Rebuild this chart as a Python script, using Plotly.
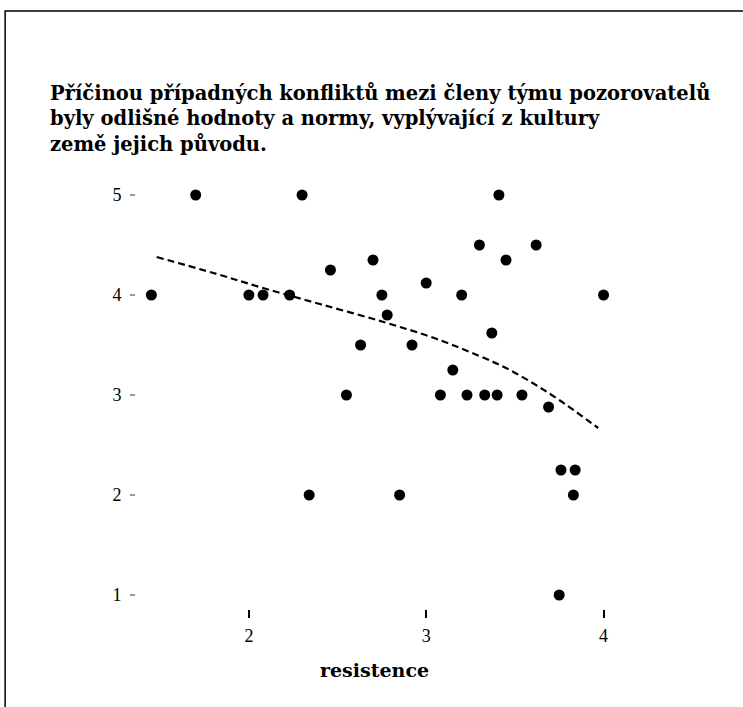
import plotly.graph_objects as go

# Scatter data
resistence = [1.45, 1.70, 2.00, 2.08, 2.23, 2.30, 2.34, 2.46, 2.55, 2.63,
              2.70, 2.75, 2.78, 2.85, 2.92, 3.00, 3.08, 3.15, 3.20, 3.23,
              3.30, 3.33, 3.37, 3.40, 3.41, 3.45, 3.54, 3.62, 3.69, 3.75,
              3.76, 3.83, 3.84, 4.00]
score = [4.00, 5.00, 4.00, 4.00, 4.00, 5.00, 2.00, 4.25, 3.00, 3.50,
         4.35, 4.00, 3.80, 2.00, 3.50, 4.12, 3.00, 3.25, 4.00, 3.00,
         4.50, 3.00, 3.62, 3.00, 5.00, 4.35, 3.00, 4.50, 2.88, 1.00,
         2.25, 2.00, 2.25, 4.00]

# Fitted (dashed) curve
fit_x = [1.48, 1.80, 2.08, 2.40, 2.76, 3.06, 3.30, 3.45, 3.60, 3.75, 3.97]
fit_y = [4.38, 4.22, 4.07, 3.91, 3.73, 3.56, 3.39, 3.27, 3.12, 2.95, 2.67]

x_ticks = [2, 3, 4]
y_ticks = [1, 2, 3, 4, 5]

title_text = ("Příčinou případných konfliktů mezi členy týmu pozorovatelů<br>"
              "byly odlišné hodnoty a normy, vyplývající z kultury<br>"
              "země jejich původu.")
x_title = "resistence"

W, H = 743, 707
L, R = 136, 639.5
T, B = 145, 609


def px_x(p):
    return (p - L) / (R - L)


def px_y(p):
    return (B - p) / (B - T)


fig = go.Figure()
fig.add_trace(go.Scatter(x=fit_x, y=fit_y, mode="lines",
                         line=dict(color="black", width=2.2, dash="7px,4px",
                                   shape="spline", smoothing=1.0),
                         hoverinfo="skip", showlegend=False))
fig.add_trace(go.Scatter(x=resistence, y=score, mode="markers",
                         marker=dict(color="black", size=11),
                         showlegend=False))

fig.update_layout(
    width=W, height=H,
    margin=dict(l=L, r=W - R, t=T, b=H - B),
    plot_bgcolor="white", paper_bgcolor="white",
    xaxis=dict(range=[2 - (249 - L) / 177.5, 2 + (R - 249) / 177.5],
               tickvals=x_ticks, ticktext=[str(v) for v in x_ticks],
               showgrid=False, zeroline=False, showline=False,
               ticks="outside", ticklen=8, tickwidth=2, tickcolor="black",
               ticklabelstandoff=2,
               tickfont=dict(family="Liberation Serif", size=18, color="black")),
    yaxis=dict(range=[1 - (B - 595) / 100, 1 + (595 - T) / 100],
               tickvals=y_ticks, ticktext=[str(v) for v in y_ticks],
               showgrid=False, zeroline=False, showline=False,
               ticks="outside", ticklen=5, tickwidth=2, tickcolor="#9a9a9a",
               ticklabelstandoff=5,
               tickfont=dict(family="Liberation Serif", size=18, color="black")),
    annotations=[
        dict(text=title_text, xref="paper", yref="paper",
             x=px_x(48), y=px_y(80), xanchor="left", yanchor="top",
             align="left", showarrow=False,
             font=dict(family="DejaVu Serif", size=19.5, color="black", weight="bold")),
        dict(text="<b>" + x_title + "</b>", xref="paper", yref="paper",
             x=px_x(375), y=px_y(670), xanchor="center", yanchor="middle",
             showarrow=False,
             font=dict(family="DejaVu Serif", size=19, color="black")),
    ],
    shapes=[
        dict(type="rect", xref="paper", yref="paper",
             x0=px_x(5), x1=px_x(760), y0=px_y(730), y1=px_y(11),
             line=dict(color="black", width=1.5), layer="below"),
    ],
)

fig.write_html("out.html")
